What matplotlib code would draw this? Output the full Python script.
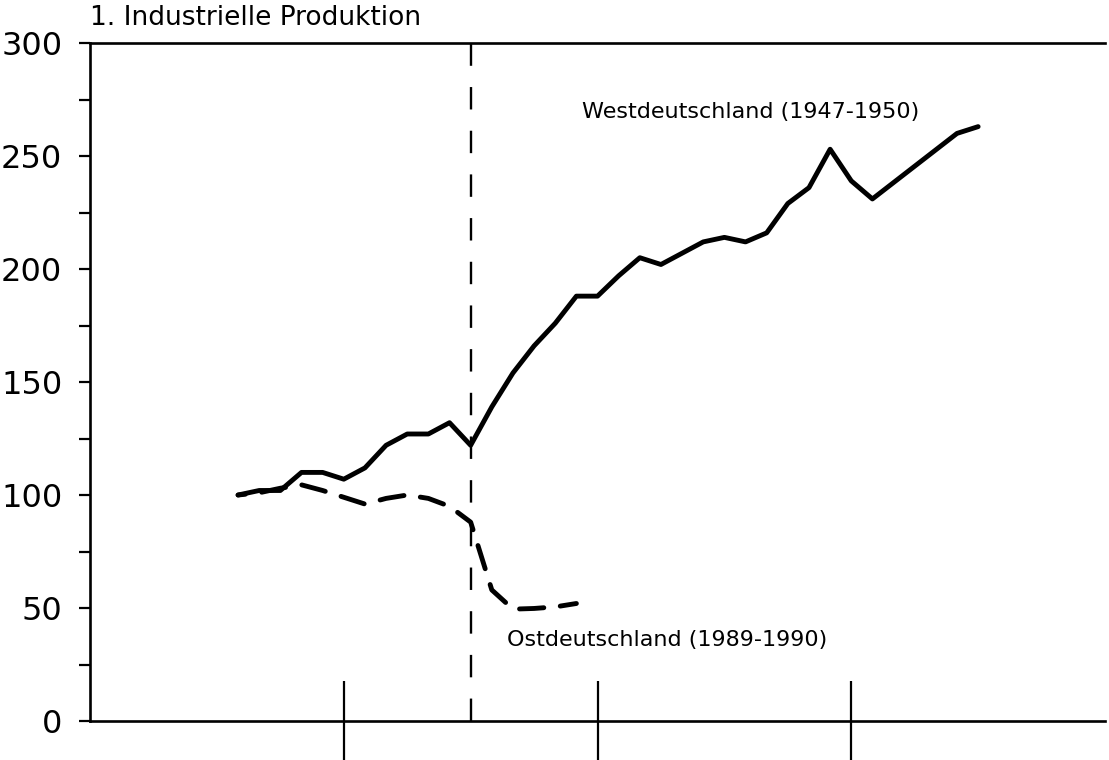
import numpy as np
import matplotlib.pyplot as plt

# months counted from Jan of the first year shown; currency/monetary union at month 18
west_months = [7, 8, 9, 10, 11, 12, 13, 14, 15, 16, 17, 18, 19, 20, 21, 22, 23, 24,
               25, 26, 27, 28, 29, 30, 31, 32, 33, 34, 35, 36, 37, 41, 42]
west_values = [100, 102, 102, 110, 110, 107, 112, 122, 127, 127, 132, 122, 139, 154,
               166, 176, 188, 188, 197, 205, 202, 207, 212, 214, 212, 216, 229, 236,
               253, 239, 231, 260, 263]

east_months = [7, 8, 9, 10, 11, 12, 13, 14, 15, 16, 17, 18, 19, 20, 21, 22, 23]
east_values = [100, 101, 103, 104.5, 102, 99, 96, 98.5, 100, 98.5, 95, 88, 58, 49.5,
               49.8, 50.5, 52]

reform_month = 18
year_ticks = [12, 24, 36]
y_major = [0, 50, 100, 150, 200, 250, 300]
y_minor = [25, 75, 125, 175, 225, 275]

title = "1. Industrielle Produktion"
west_label = "Westdeutschland (1947-1950)"
east_label = "Ostdeutschland (1989-1990)"

fig = plt.figure(figsize=(11.09, 7.6), dpi=100)
ax = fig.add_axes([0.0812, 0.0513, 0.9152, 0.8921])

ax.plot(west_months, west_values, color="black", lw=3.5,
        solid_joinstyle="round", solid_capstyle="round")
# offset chosen so the series ends on a short dash, as in the original
ax.plot(east_months, east_values, color="black", lw=3.5,
        linestyle=(3.5, (5.0, 3.4)), dash_capstyle="round", dash_joinstyle="round")
ax.axvline(reform_month, color="black", lw=1.7, dashes=(9.5, 9.0))

ax.set_xlim(0, 48)
ax.set_ylim(0, 300)

ax.set_xticks(year_ticks)
ax.set_xticklabels([])
ax.tick_params(axis="x", direction="inout", length=58, width=1.6)

ax.set_yticks(y_major)
ax.set_yticks(y_minor, minor=True)
ax.set_yticklabels([str(v) for v in y_major], fontsize=23)
ax.tick_params(axis="y", which="both", direction="out", length=8, width=1.6, pad=12)

ax.spines["right"].set_visible(False)
for s in ["left", "bottom", "top"]:
    ax.spines[s].set_linewidth(1.9)

ax.text(23.25, 269.5, west_label, fontsize=16, va="center", ha="left")
ax.text(19.7, 35.8, east_label, fontsize=16, va="center", ha="left")
fig.text(0.0812, 0.976, title, fontsize=19, va="center", ha="left")

fig.savefig("out.png", dpi=100)
